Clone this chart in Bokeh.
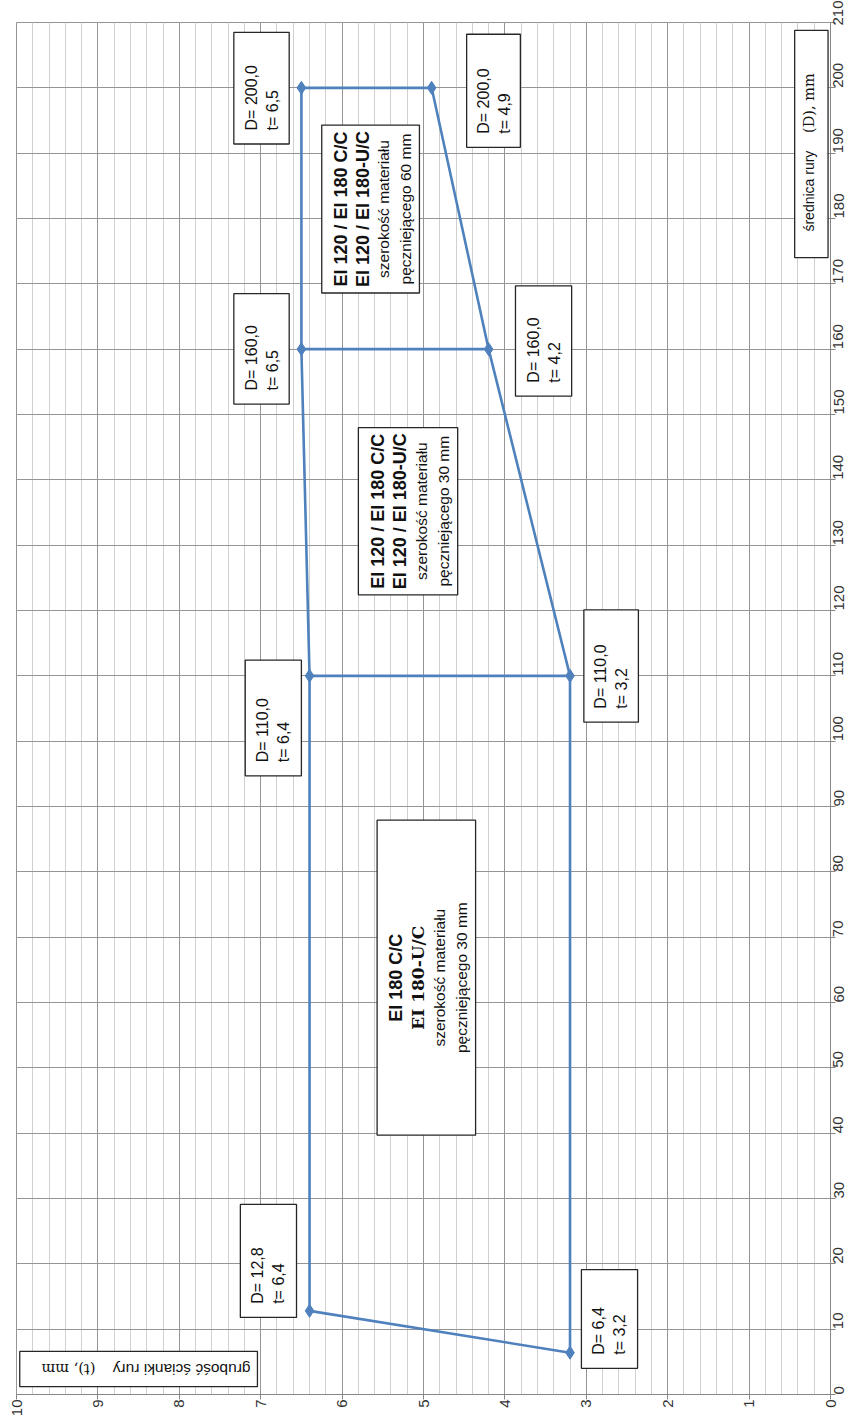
from math import pi
from bokeh.plotting import figure
from bokeh.models import Range1d, SingleIntervalTicker, ColumnDataSource
from bokeh.core.properties import value
from bokeh.embed import file_html
from bokeh.resources import INLINE

# ---------------- data ----------------
# upper boundary (t large) and lower boundary (t small); D = pipe diameter, t = wall thickness
D_upper = [12.8, 110.0, 160.0, 200.0]
t_upper = [6.4, 6.4, 6.5, 6.5]
D_lower = [6.4, 110.0, 160.0, 200.0]
t_lower = [3.2, 3.2, 4.2, 4.9]

t_ticks = [10, 9, 8, 7, 6, 5, 4, 3, 2, 1, 0]
D_ticks = list(range(0, 220, 10))

region_titles = [
    ["EI 120 / EI 180 C/C", "EI 120 / EI 180-U/C", "szerokość materiału", "pęczniejącego 60 mm"],
    ["EI 120 / EI 180 C/C", "EI 120 / EI 180-U/C", "szerokość materiału", "pęczniejącego 30 mm"],
    ["EI 180 C/C", "EI 180-U/C", "szerokość materiału", "pęczniejącego 30 mm"],
]
t_title_main = "grubość ścianki rury"
t_title_unit = "(t), mm"
D_title_main = "średnica rury"
D_title_unit = "(D), mm"

# ---------------- layout (box extents in axis units: t_left, t_right, D_top, D_bottom) ----------------
upper_boxes = [(7.25, 6.56, 29.1, 11.8), (7.19, 6.50, 112.4, 94.7),
               (7.33, 6.65, 168.5, 151.6), (7.33, 6.65, 208.5, 191.4)]
lower_boxes = [(3.06, 2.37, 19.1, 4.0), (3.03, 2.36, 120.1, 102.9),
               (3.87, 3.18, 169.7, 152.8), (4.47, 3.81, 208.2, 190.9)]
region_boxes = [(6.25, 5.05, 194.3, 168.6), (5.80, 4.58, 148.0, 122.4), (5.57, 4.36, 87.9, 39.7)]
t_title_box = (9.96, 7.04, 6.6, 1.2)
D_title_box = (0.44, 0.03, 208.8, 174.0)

PX_T = 81.4    # px per unit t
PX_D = 6.505   # px per unit D

BLUE = "#4F81BD"
GRID_MAJOR = "#959595"
GRID_MINOR = "#d0d0d0"
AXIS = "#868686"
SANS = "Liberation Sans"
SERIF = "DejaVu Serif"

p = figure(width=863, height=1419,
           x_range=Range1d(10, 0), y_range=Range1d(0, 210),
           y_axis_location="right", output_backend="svg", toolbar_location=None,
           min_border_left=16, min_border_top=22, min_border_right=33, min_border_bottom=0,
           background_fill_color="white", border_fill_color="white")
p.outline_line_color = GRID_MAJOR

xt = SingleIntervalTicker(interval=1, num_minor_ticks=5)
yt = SingleIntervalTicker(interval=10, num_minor_ticks=0)
p.xaxis.ticker = xt
p.yaxis.ticker = yt
p.xgrid.ticker = xt
p.ygrid.ticker = yt
p.xgrid.grid_line_color = GRID_MAJOR
p.xgrid.minor_grid_line_color = GRID_MINOR
p.ygrid.grid_line_color = GRID_MAJOR

for ax in (p.xaxis[0], p.yaxis[0]):
    ax.axis_line_color = AXIS
    ax.major_tick_line_color = AXIS
    ax.minor_tick_line_color = None
    ax.major_tick_in = 0
    ax.major_tick_out = 5
    ax.major_label_orientation = pi / 2
    ax.major_label_text_font = SANS
    ax.major_label_text_font_size = "15px"
    ax.major_label_text_color = "#333333"
    ax.major_label_standoff = 3
p.xaxis[0].major_label_standoff = 0

# ---------------- series ----------------
p.line(t_upper, D_upper, line_color=BLUE, line_width=2.6)
p.line(t_lower, D_lower, line_color=BLUE, line_width=2.6)
p.multi_line([[a, b] for a, b in zip(t_upper, t_lower)],
             [[a, b] for a, b in zip(D_upper, D_lower)],
             line_color=BLUE, line_width=2.6)
p.scatter(t_upper + t_lower, D_upper + D_lower, marker="diamond", size=13,
          fill_color=BLUE, line_color=BLUE)

# ---------------- boxes ----------------
all_boxes = upper_boxes + lower_boxes + region_boxes + [t_title_box, D_title_box]
p.quad(left=[b[0] for b in all_boxes], right=[b[1] for b in all_boxes],
       top=[b[2] for b in all_boxes], bottom=[b[3] for b in all_boxes],
       fill_color="white", line_color="#262626", line_width=1.3)

def fmt(v):
    return f"{v:.1f}".replace(".", ",")

# point labels
pl = dict(x=[], y=[], text=[])
for Ds, ts, boxes in ((D_upper, t_upper, upper_boxes), (D_lower, t_lower, lower_boxes)):
    for D, t, b in zip(Ds, ts, boxes):
        tc = (b[0] + b[1]) / 2
        y0 = b[3] + 13.5 / PX_D
        pl["x"] += [tc + 10.5 / PX_T, tc - 10.5 / PX_T]
        pl["y"] += [y0, y0]
        pl["text"] += ["D= " + fmt(D), "t= " + fmt(t)]
p.text(x="x", y="y", text="text", source=ColumnDataSource(pl), angle=pi / 2,
       text_align="left", text_baseline="middle", text_font=value(SANS),
       text_font_size="16px", text_color="#111111")

# region labels
offs = [-30, -8, 13, 35]
styles = [
    dict(text_font=value(SANS), text_font_style="bold", text_font_size="18px"),
    dict(text_font=value(SANS), text_font_style="bold", text_font_size="18px"),
    dict(text_font=value(SANS), text_font_style="normal", text_font_size="15.5px"),
    dict(text_font=value(SANS), text_font_style="normal", text_font_size="15.5px"),
]
for k, (lines, b) in enumerate(zip(region_titles, region_boxes)):
    tc = (b[0] + b[1]) / 2
    dc = (b[2] + b[3]) / 2
    for i, line in enumerate(lines):
        st = dict(styles[i])
        if k == 2 and i == 1:
            st = dict(text_font=value(SERIF), text_font_style="bold", text_font_size="17px")
        p.text(x=[tc - offs[i] / PX_T], y=[dc], text=[line], angle=pi / 2,
               text_align="center", text_baseline="middle", text_color="#111111", **st)

# axis title boxes
b = t_title_box
tm = (b[2] + b[3]) / 2
p.text(x=[7.125], y=[tm], text=[t_title_main], angle=pi, text_align="left",
       text_baseline="middle", text_font=value(SANS), text_font_size="15.5px", text_color="#111111")
p.text(x=[9.03], y=[tm], text=[t_title_unit], angle=pi, text_align="left",
       text_baseline="middle", text_font=value(SERIF), text_font_size="14.5px", text_color="#111111")

b = D_title_box
tc = 0.258
p.text(x=[tc], y=[178.0], text=[D_title_main], angle=pi / 2, text_align="left",
       text_baseline="middle", text_font=value(SANS), text_font_size="14px", text_color="#111111")
p.text(x=[tc], y=[193.1], text=[D_title_unit], angle=pi / 2, text_align="left",
       text_baseline="middle", text_font=value(SERIF), text_font_size="14.5px", text_color="#111111")

open("out.html", "w").write(file_html(p, INLINE))
